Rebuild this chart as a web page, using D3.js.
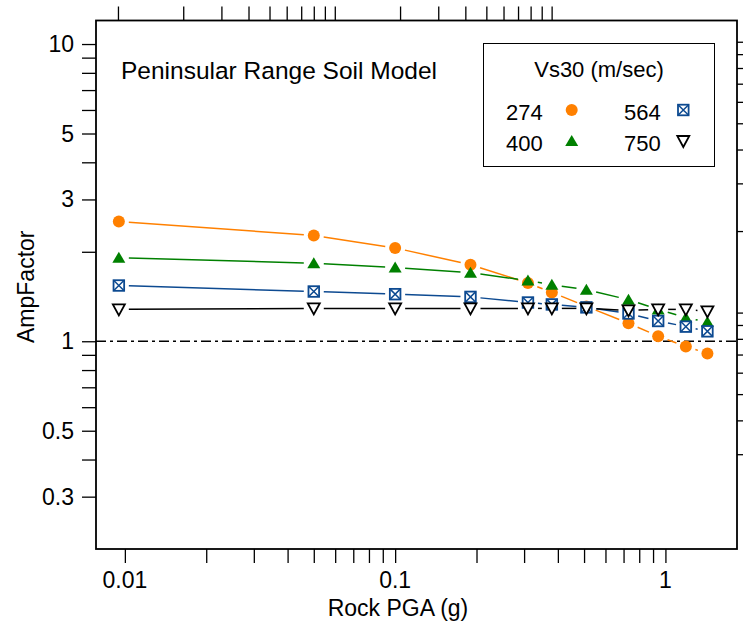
<!DOCTYPE html>
<html lang="en">
<head>
<meta charset="UTF-8">
<title>AmpFactor</title>
<script src="https://cdn.jsdelivr.net/npm/d3@7"></script>
<style>
  body { margin: 0; background: #fff; }
  text { font-family: "Liberation Sans", Arial, sans-serif; fill: #000; }
</style>
</head>
<body>
<script>
    // data
    var pga = [0.0095, 0.05, 0.1, 0.19, 0.31, 0.38, 0.51, 0.73, 0.94, 1.19, 1.43];
    var vs274 = [2.53, 2.27, 2.06, 1.81, 1.57, 1.46, 1.31, 1.15, 1.04, 0.96, 0.91];
    var vs400 = [1.91, 1.83, 1.77, 1.70, 1.60, 1.55, 1.49, 1.38, 1.28, 1.20, 1.16];
    var vs564 = [1.54, 1.47, 1.44, 1.41, 1.35, 1.33, 1.30, 1.24, 1.17, 1.12, 1.08];
    var vs750 = [1.28, 1.29, 1.29, 1.29, 1.29, 1.29, 1.29, 1.27, 1.28, 1.28, 1.26];

    var seriesNames = ["274", "400", "564", "750"];
    var seriesColors = ["#ff8000", "#008000", "#0d4a91", "#000000"];
    var seriesValues = [vs274, vs400, vs564, vs750];

    var xTicks = [0.01, 0.1, 1];
    var yTicks = [0.3, 0.5, 1, 3, 5, 10];
    var topDomain = [0.792, 716];
    var rightDomain = [0.134, 11.98];

    var W = 743, H = 624;
    var m = {left: 96, right: 737, top: 20.5, bottom: 549};

    var svg = d3.select('body').append('svg')
        .attr('width', W)
        .attr('height', H);

    var x = d3.scaleLog().domain([0.00782, 1.84]).range([m.left, m.right]);
    var y = d3.scaleLog().domain([0.2, 12]).range([m.bottom, m.top]);
    var xTop = d3.scaleLog().domain(topDomain).range([m.left, m.right]);
    var yRight = d3.scaleLog().domain(rightDomain).range([m.bottom, m.top]);

    // minor + major tick values for each decade
    function logTicks(lo, hi) {
        var out = [];
        for (var e = -3; e <= 3; e++) {
            for (var k = 1; k < 10; k++) {
                var v = +(k * Math.pow(10, e)).toPrecision(6);
                if (v >= lo - 1e-9 && v <= hi + 1e-9) out.push(v);
            }
        }
        return out;
    }

    var tickLen = 14;

    var gx = svg.append('g').attr('transform', 'translate(0,' + m.bottom + ')')
        .call(d3.axisBottom(x).tickValues(logTicks(0.01, 1)).tickSize(tickLen).tickFormat(''));
    var gy = svg.append('g').attr('transform', 'translate(' + m.left + ',0)')
        .call(d3.axisLeft(y).tickValues(logTicks(0.3, 10)).tickSize(tickLen).tickFormat(''));
    var gt = svg.append('g').attr('transform', 'translate(0,' + m.top + ')')
        .call(d3.axisTop(xTop).tickValues(logTicks(1, 100)).tickSize(tickLen).tickFormat(''));
    var gr = svg.append('g').attr('transform', 'translate(' + m.right + ',0)')
        .call(d3.axisRight(yRight).tickValues(logTicks(0.3, 10)).tickSize(tickLen).tickFormat(''));

    [gx, gy, gt, gr].forEach(function (g) {
        g.select('.domain').remove();
        g.selectAll('line').attr('stroke', '#000').attr('stroke-width', 1.3);
    });

    // frame
    svg.append('rect')
        .attr('x', m.left).attr('y', m.top)
        .attr('width', m.right - m.left).attr('height', m.bottom - m.top)
        .attr('fill', 'none').attr('stroke', '#000').attr('stroke-width', 1.8);

    // tick labels
    svg.append('g').selectAll('text')
        .data(xTicks).enter().append('text')
        .attr('x', function (d) { return x(d); })
        .attr('y', 588)
        .attr('text-anchor', 'middle')
        .style('font-size', '23px')
        .text(function (d) { return d; });

    svg.append('g').selectAll('text')
        .data(yTicks).enter().append('text')
        .attr('x', 74)
        .attr('y', function (d) { return y(d) + 8; })
        .attr('text-anchor', 'end')
        .style('font-size', '23px')
        .text(function (d) { return d; });

    // axis titles
    svg.append('text')
        .attr('x', 398)
        .attr('y', 616)
        .attr('text-anchor', 'middle')
        .style('font-size', '23px')
        .text('Rock PGA (g)');

    svg.append('text')
        .attr('transform', 'translate(34,' + ((m.top + m.bottom) / 2 + 2) + ') rotate(-90)')
        .attr('text-anchor', 'middle')
        .style('font-size', '23px')
        .text('AmpFactor');

    // reference line at 1
    svg.append('line')
        .attr('x1', m.left).attr('x2', m.right)
        .attr('y1', y(1)).attr('y2', y(1))
        .attr('stroke', '#000').attr('stroke-width', 1.5)
        .attr('stroke-dasharray', '10,4,3,4');

    // lines between markers, with a gap round each marker
    var gap = 10;
    seriesValues.forEach(function (vals, i) {
        for (var k = 0; k < vals.length - 1; k++) {
            var ax = x(pga[k]), ay = y(vals[k]);
            var bx = x(pga[k + 1]), by = y(vals[k + 1]);
            var dx = bx - ax, dy = by - ay, len = Math.sqrt(dx * dx + dy * dy);
            if (len <= 2 * gap) continue;
            var ux = dx / len, uy = dy / len;
            svg.append('line')
                .attr('x1', ax + ux * gap).attr('y1', ay + uy * gap)
                .attr('x2', bx - ux * gap).attr('y2', by - uy * gap)
                .attr('stroke', seriesColors[i])
                .attr('stroke-width', 1.5);
        }
    });

    // marker drawing
    function drawMarker(g, i, cx, cy) {
        var c = seriesColors[i];
        if (i === 0) {
            g.append('circle').attr('cx', cx).attr('cy', cy).attr('r', 6).attr('fill', c);
        } else if (i === 1) {
            g.append('path')
                .attr('d', 'M' + cx + ',' + (cy - 6) + 'L' + (cx + 6.5) + ',' + (cy + 5) + 'L' + (cx - 6.5) + ',' + (cy + 5) + 'Z')
                .attr('fill', c);
        } else if (i === 2) {
            var s = 5.3;
            g.append('rect').attr('x', cx - s).attr('y', cy - s)
                .attr('width', 2 * s).attr('height', 2 * s)
                .attr('fill', '#fff').attr('stroke', c).attr('stroke-width', 1.8);
            g.append('path')
                .attr('d', 'M' + (cx - s) + ',' + (cy - s) + 'L' + (cx + s) + ',' + (cy + s) +
                    'M' + (cx + s) + ',' + (cy - s) + 'L' + (cx - s) + ',' + (cy + s))
                .attr('stroke', c).attr('stroke-width', 1.5);
        } else {
            g.append('path')
                .attr('d', 'M' + (cx - 6) + ',' + (cy - 5) + 'L' + (cx + 6) + ',' + (cy - 5) + 'L' + cx + ',' + (cy + 6) + 'Z')
                .attr('fill', '#fff').attr('stroke', c).attr('stroke-width', 1.8)
                .attr('stroke-linejoin', 'miter');
        }
    }

    var gm = svg.append('g');
    seriesValues.forEach(function (vals, i) {
        vals.forEach(function (v, k) {
            drawMarker(gm, i, x(pga[k]), y(v));
        });
    });

    // plot title
    svg.append('text')
        .attr('x', 121).attr('y', 79)
        .style('font-size', '24.5px')
        .text('Peninsular Range Soil Model');

    // legend
    var lg = svg.append('g');
    lg.append('rect')
        .attr('x', 483.5).attr('y', 43.5)
        .attr('width', 231).attr('height', 123)
        .attr('fill', '#fff').attr('stroke', '#000').attr('stroke-width', 1);
    lg.append('text')
        .attr('x', 599).attr('y', 77)
        .attr('text-anchor', 'middle')
        .style('font-size', '22px')
        .text('Vs30 (m/sec)');

    var legX = [506, 506, 624, 624];
    var legY = [120, 151, 120, 151];
    var legMx = [571.7, 571.7, 683.3, 683.3];
    seriesNames.forEach(function (n, i) {
        lg.append('text')
            .attr('x', legX[i]).attr('y', legY[i])
            .style('font-size', '22px')
            .text(n);
        drawMarker(lg, i, legMx[i], legY[i] - 10);
    });
</script>
</body>
</html>
